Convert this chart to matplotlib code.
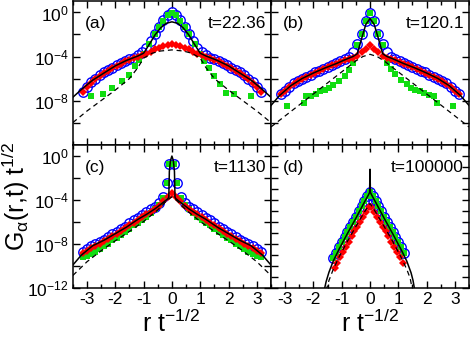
import matplotlib
matplotlib.use('agg')
import matplotlib.pyplot as plt
from matplotlib.ticker import MultipleLocator, FixedLocator
import numpy as np

plt.rcParams['font.family'] = ['Liberation Sans', 'DejaVu Sans']
plt.rcParams['mathtext.fontset'] = 'custom'
plt.rcParams['mathtext.rm'] = 'Liberation Sans'
plt.rcParams['mathtext.it'] = 'Liberation Sans:italic'
plt.rcParams['mathtext.default'] = 'regular'
plt.rcParams['axes.unicode_minus'] = False

# shared x grid (r t^-1/2) used by several series
x15 = [-3.15, -3.0, -2.85, -2.7, -2.55, -2.4, -2.25, -2.1, -1.95, -1.8, -1.65, -1.5,
       -1.35, -1.2, -1.05, -0.9, -0.75, -0.6, -0.45, -0.3, -0.15, 0.0, 0.15, 0.3,
       0.45, 0.6, 0.75, 0.9, 1.05, 1.2, 1.35, 1.5, 1.65, 1.8, 1.95, 2.1, 2.25, 2.4,
       2.55, 2.7, 2.85, 3.0, 3.15]

# ---- panel (a) t=22.36, values are log10 G
a_blue = [-7.2, -6.75, -6.35, -6.0, -5.7, -5.45, -5.25, -5.0, -4.8, -4.6, -4.4, -4.25,
          -4.1, -3.9, -3.6, -3.2, -2.6, -2.0, -1.35, -0.72, -0.2, 0.0, -0.2, -0.72,
          -1.35, -2.0, -2.6, -3.2, -3.6, -3.9, -4.1, -4.25, -4.4, -4.6, -4.8, -5.0,
          -5.25, -5.45, -5.7, -6.0, -6.35, -6.75, -7.2]
a_red = [-7.25, -6.8, -6.4, -6.05, -5.75, -5.5, -5.3, -5.05, -4.85, -4.65, -4.45, -4.3,
         -4.15, -4.0, -3.9, -3.75, -3.55, -3.35, -3.2, -3.05, -2.93, -2.9, -2.93, -3.05,
         -3.2, -3.35, -3.55, -3.75, -3.9, -4.0, -4.15, -4.3, -4.45, -4.65, -4.85, -5.05,
         -5.3, -5.5, -5.75, -6.05, -6.4, -6.8, -7.25]
a_green_x = [-2.85, -2.45, -2.1, -1.75, -1.5, -1.3, -1.15, -1.0, -0.8, -0.6, -0.45, -0.3,
             -0.15, 0.0, 0.15, 0.3, 0.45, 0.6, 0.8, 1.0, 1.15, 1.3, 1.5, 1.7, 1.9, 2.2, 2.8]
a_green = [-7.6, -7.45, -6.85, -6.25, -5.65, -4.9, -4.3, -3.8, -2.85, -2.0, -1.35, -0.75,
           -0.25, -0.05, -0.25, -0.75, -1.35, -2.0, -2.85, -3.8, -4.4, -5.0, -5.8, -6.5,
           -7.3, -7.45, -7.6]
a_line_x = [-3.5, -3.2, -2.8, -2.4, -2.0, -1.6, -1.2, -1.0, -0.8, -0.6, -0.4, -0.2, 0.0,
            0.2, 0.4, 0.6, 0.8, 1.0, 1.2, 1.6, 2.0, 2.4, 2.8, 3.2, 3.5]
a_line = [-7.7, -7.0, -6.15, -5.5, -4.85, -4.35, -3.95, -3.7, -2.9, -2.05, -1.4, -0.98,
          -0.85, -0.98, -1.4, -2.05, -2.9, -3.7, -3.95, -4.35, -4.85, -5.5, -6.15, -7.0, -7.7]
a_dash_x = [-3.5, -3.0, -2.5, -2.0, -1.5, -1.2, -1.0, -0.7, -0.4, 0.0, 0.4, 0.7, 1.0, 1.2,
            1.5, 2.0, 2.5, 3.0, 3.5]
a_dash = [-10.0, -8.95, -8.0, -7.05, -6.0, -5.0, -4.15, -3.7, -3.5, -3.4, -3.5, -3.7, -4.15,
          -5.0, -6.0, -7.05, -8.0, -8.95, -10.0]

# ---- panel (b) t=120.1
b_blue = [-7.45, -7.1, -6.75, -6.45, -6.2, -6.0, -5.85, -5.65, -5.45, -5.3, -5.1, -4.95,
          -4.8, -4.6, -4.45, -4.25, -4.0, -3.6, -2.9, -1.95, -0.75, -0.08, -0.75, -1.95,
          -2.9, -3.6, -4.0, -4.25, -4.45, -4.6, -4.8, -4.95, -5.1, -5.3, -5.45, -5.65,
          -5.85, -6.0, -6.2, -6.45, -6.75, -7.1, -7.45]
b_red = [-7.45, -7.15, -6.8, -6.5, -6.25, -6.05, -5.9, -5.7, -5.5, -5.3, -5.1, -4.95,
         -4.8, -4.65, -4.5, -4.35, -4.2, -4.1, -3.95, -3.6, -3.3, -2.95, -3.3, -3.6,
         -3.95, -4.1, -4.2, -4.35, -4.5, -4.65, -4.8, -4.95, -5.1, -5.3, -5.5, -5.7,
         -5.9, -6.05, -6.25, -6.5, -6.8, -7.15, -7.45]
b_green_x = [-2.95, -2.35, -2.25, -2.1, -1.9, -1.75, -1.6, -1.45, -1.3, -1.1, -0.9, -0.75,
             -0.6, -0.45, -0.3, -0.15, 0.0, 0.15, 0.3, 0.45, 0.6, 0.75, 0.9, 1.1, 1.3,
             1.45, 1.6, 1.75, 1.9, 2.1, 2.25, 2.35, 2.95]
b_green = [-8.45, -8.2, -7.6, -7.55, -7.45, -7.15, -7.0, -6.85, -6.55, -6.2, -5.75, -5.2,
           -4.6, -2.95, -1.95, -0.75, -0.08, -0.75, -1.95, -2.95, -4.6, -5.1, -5.6, -6.15,
           -6.5, -6.85, -7.0, -7.15, -7.35, -7.5, -7.6, -8.2, -8.45]
b_line_x = [-3.5, -3.2, -2.8, -2.4, -2.0, -1.6, -1.2, -0.8, -0.6, -0.45, -0.3, -0.15, 0.0,
            0.15, 0.3, 0.45, 0.6, 0.8, 1.2, 1.6, 2.0, 2.4, 2.8, 3.2, 3.5]
b_line = [-8.45, -7.55, -6.65, -6.0, -5.5, -5.05, -4.65, -4.2, -4.0, -3.75, -2.4, -1.1,
          -0.55, -1.1, -2.4, -3.75, -4.0, -4.2, -4.65, -5.05, -5.5, -6.0, -6.65, -7.55, -8.45]
b_dash_x = [-3.5, -3.0, -2.5, -2.0, -1.5, -1.0, -0.5, -0.25, 0.0, 0.25, 0.5, 1.0, 1.5, 2.0,
            2.5, 3.0, 3.5]
b_dash = [-10.4, -9.4, -8.4, -7.4, -6.4, -5.4, -4.4, -4.0, -3.8, -4.0, -4.4, -5.4, -6.4,
          -7.4, -8.4, -9.4, -10.4]

# ---- panel (c) t=1130
c_circ_x = [-3.15, -3.0, -2.85, -2.7, -2.55, -2.4, -2.25, -2.1, -1.95, -1.8, -1.65, -1.5,
            -1.35, -1.2, -1.05, -0.9, -0.75, -0.6, -0.45, -0.33, -0.18, -0.09, 0.09, 0.18,
            0.33, 0.45, 0.6, 0.75, 0.9, 1.05, 1.2, 1.35, 1.5, 1.65, 1.8, 1.95, 2.1, 2.25,
            2.4, 2.55, 2.7, 2.85, 3.0, 3.15]
c_blue = [-8.7, -8.4, -8.15, -7.95, -7.8, -7.6, -7.35, -7.1, -6.9, -6.65, -6.4, -6.1,
          -5.85, -5.6, -5.35, -5.1, -4.85, -4.6, -4.25, -3.7, -2.45, -0.76, -0.76, -2.45,
          -3.7, -4.25, -4.6, -4.85, -5.1, -5.35, -5.6, -5.85, -6.1, -6.4, -6.65, -6.9,
          -7.1, -7.35, -7.6, -7.8, -7.95, -8.15, -8.4, -8.7]
c_green = [-9.15, -9.05, -8.9, -8.7, -8.45, -8.2, -7.95, -7.65, -7.4, -7.15, -6.9, -6.6,
           -6.3, -6.05, -5.8, -5.5, -5.15, -4.8, -4.45, -3.85, -2.45, -0.76, -0.76, -2.45,
           -3.85, -4.45, -4.8, -5.15, -5.5, -5.8, -6.05, -6.3, -6.6, -6.9, -7.15, -7.4,
           -7.65, -7.95, -8.2, -8.45, -8.7, -8.9, -9.05, -9.15]
c_red = [-8.85, -8.6, -8.35, -8.15, -7.95, -7.75, -7.5, -7.3, -7.05, -6.8, -6.55, -6.3,
         -6.05, -5.8, -5.55, -5.3, -5.05, -4.8, -4.5, -4.1, -3.75, -3.4, -3.75, -4.1,
         -4.5, -4.8, -5.05, -5.3, -5.55, -5.8, -6.05, -6.3, -6.55, -6.8, -7.05, -7.3,
         -7.5, -7.75, -7.95, -8.15, -8.35, -8.6, -8.85]
c_line_x = [-3.5, -3.2, -2.8, -2.4, -2.0, -1.6, -1.2, -0.9, -0.6, -0.3, -0.15, -0.11, -0.09,
            -0.05, 0.0, 0.05, 0.09, 0.11, 0.15, 0.3, 0.6, 0.9, 1.2, 1.6, 2.0, 2.4, 2.8,
            3.2, 3.5]
c_line = [-9.9, -9.0, -8.15, -7.65, -7.05, -6.45, -5.75, -5.3, -4.8, -4.2, -3.9, -3.75,
          -1.4, -0.4, 0.0, -0.4, -1.4, -3.75, -3.9, -4.2, -4.8, -5.3, -5.75, -6.45, -7.05,
          -7.65, -8.15, -9.0, -9.9]
c_dash_x = [-3.5, -3.0, -2.5, -2.0, -1.5, -1.0, -0.5, -0.2, 0.0, 0.2, 0.5, 1.0, 1.5, 2.0,
            2.5, 3.0, 3.5]
c_dash = [-10.85, -9.6, -8.6, -7.7, -6.85, -5.95, -4.9, -4.1, -3.7, -4.1, -4.9, -5.95,
          -6.85, -7.7, -8.6, -9.6, -10.85]

# ---- panel (d) t=100000
d_circ_x = [-1.3, -1.2, -1.1, -1.0, -0.9, -0.8, -0.7, -0.6, -0.5, -0.4, -0.3, -0.2, -0.1,
            0.0, 0.1, 0.2, 0.3, 0.4, 0.5, 0.6, 0.7, 0.8, 0.9, 1.0, 1.1, 1.2]
d_blue = [-9.25, -8.8, -8.3, -7.85, -7.35, -6.9, -6.45, -5.95, -5.5, -5.0, -4.55, -4.1,
          -3.65, -3.25, -3.65, -4.1, -4.55, -5.0, -5.5, -5.95, -6.45, -6.9, -7.35, -7.85,
          -8.3, -8.8]
d_green = [-9.25, -8.8, -8.3, -7.85, -7.35, -6.9, -6.45, -5.95, -5.5, -5.0, -4.55, -4.1,
           -3.65, -3.25, -3.65, -4.1, -4.55, -5.0, -5.5, -5.95, -6.45, -6.9, -7.35, -7.85,
           -8.3, -8.8]
d_red_x = [-1.25, -1.15, -1.05, -0.95, -0.85, -0.75, -0.65, -0.55, -0.45, -0.35, -0.25,
           -0.15, -0.05, 0.05, 0.15, 0.25, 0.35, 0.45, 0.55, 0.65, 0.75, 0.85, 0.95, 1.05, 1.15]
d_red = [-10.2, -9.7, -9.2, -8.75, -8.25, -7.8, -7.3, -6.85, -6.4, -5.95, -5.5, -5.05,
         -4.6, -4.6, -5.05, -5.5, -5.95, -6.4, -6.85, -7.3, -7.8, -8.25, -8.75, -9.2, -9.7]
d_line_x = [-1.62, -1.55, -1.45, -1.3, -1.1, -0.8, -0.5, -0.2, -0.05, -0.015, 0.0, 0.015,
            0.05, 0.2, 0.5, 0.8, 1.1, 1.3, 1.45, 1.52, 1.58]
d_line = [-12.2, -11.4, -10.55, -9.55, -8.5, -7.05, -5.65, -4.2, -3.5, -3.3, -1.2, -3.3,
          -3.5, -4.2, -5.65, -7.05, -8.5, -9.55, -10.6, -11.3, -12.2]
d_dash_x = [-1.55, -1.45, -1.3, -1.1, -0.8, -0.5, -0.2, 0.0, 0.2, 0.5, 0.8, 1.1, 1.3, 1.42, 1.5]
d_dash = [-12.2, -11.3, -10.3, -9.2, -7.75, -6.4, -5.1, -4.3, -5.1, -6.4, -7.75, -9.2,
          -10.3, -11.1, -12.2]

panels = [
    ('(a)', 't=22.36', (x15, a_blue), (a_green_x, a_green), (x15, a_red), (a_line_x, a_line), (a_dash_x, a_dash)),
    ('(b)', 't=120.1', (x15, b_blue), (b_green_x, b_green), (x15, b_red), (b_line_x, b_line), (b_dash_x, b_dash)),
    ('(c)', 't=1130', (c_circ_x, c_blue), (c_circ_x, c_green), (x15, c_red), (c_line_x, c_line), (c_dash_x, c_dash)),
    ('(d)', 't=100000', (d_circ_x, d_blue), (d_circ_x, d_green), (d_red_x, d_red), (d_line_x, d_line), (d_dash_x, d_dash)),
]

xticks = [-3, -2, -1, 0, 1, 2, 3]
xtick_labels = ['-3', '-2', '-1', '0', '1', '2', '3']


def lg(v):
    return 10.0 ** np.array(v)


fig = plt.figure(figsize=(4.7, 3.39), dpi=100)
gs = fig.add_gridspec(2, 2, left=0.155, right=0.998, top=0.997, bottom=0.15,
                      hspace=0, wspace=0)

for i, (lab, ttl, blue, green, red, line, dash) in enumerate(panels):
    ax = fig.add_subplot(gs[i // 2, i % 2])
    ax.set_yscale('log')
    ax.plot(blue[0], lg(blue[1]), 'o', mfc='none', mec='#0000ff', ms=6.8, mew=1.0, zorder=2)
    ax.plot(green[0], lg(green[1]), 's', color='#11dd11', ms=4.0, mew=0, zorder=3)
    ax.plot(red[0], lg(red[1]), 'D', color='#ff0000', ms=3.8, mew=0, zorder=4)
    ax.plot(line[0], lg(line[1]), '-', color='black', lw=1.1, zorder=5)
    ax.plot(dash[0], lg(dash[1]), '--', color='black', lw=0.9, dashes=(4, 3), zorder=5)

    ax.set_xlim(-3.5, 3.5)
    ax.set_ylim(1e-12, 1.1e1)
    ax.set_xticks(xticks)
    ax.xaxis.set_minor_locator(MultipleLocator(0.5))
    if i < 2:
        ax.set_xticklabels([])
    else:
        ax.set_xticklabels(xtick_labels)

    if i == 3:
        yt = [10.0 ** k for k in range(-12, 2)]
    else:
        yt = [10.0 ** k for k in range(-12, 1, 2)]
    ax.yaxis.set_major_locator(FixedLocator(yt))
    ax.yaxis.set_minor_locator(FixedLocator([]))
    if i % 2 == 0:
        labs = []
        for k in range(-12, 1, 2):
            if k % 4 == 0 and (k > -12 or i == 2):
                labs.append(r'$10^{%d}$' % k)
            else:
                labs.append('')
        ax.set_yticklabels(labs)
    else:
        ax.set_yticklabels([])

    ax.tick_params(which='both', direction='in', top=True, right=True, width=1.0,
                   labelsize=12.5, pad=3)
    ax.tick_params(which='major', length=5)
    ax.tick_params(which='minor', length=3)
    for s in ax.spines.values():
        s.set_linewidth(1.1)

    ax.text(0.06, 0.84, lab, transform=ax.transAxes, fontsize=12.5, ha='left', va='center')
    ax.text(0.975, 0.84, ttl, transform=ax.transAxes, fontsize=12.5, ha='right', va='center')

fig.text(0.034, 0.42, r'$G_{\alpha}(r{,}t)\ t^{1/2}$', rotation=90, ha='center',
         va='center', fontsize=18)
fig.text(0.364, 0.005, r'$r\ t^{-1/2}$', ha='center', va='bottom', fontsize=18)
fig.text(0.787, 0.005, r'$r\ t^{-1/2}$', ha='center', va='bottom', fontsize=18)

fig.savefig('out.png', dpi=100)
plt.close(fig)
